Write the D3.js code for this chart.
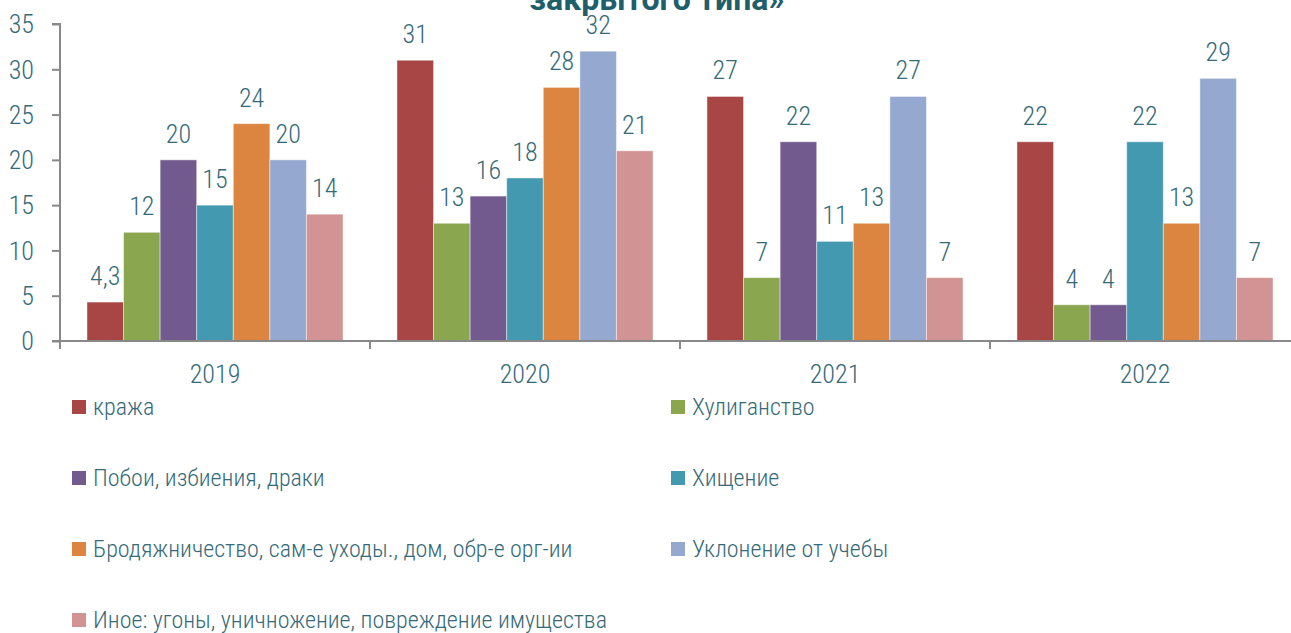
<!DOCTYPE html>
<html>
<head>
<meta charset="utf-8">
<script src="https://cdn.jsdelivr.net/npm/d3@7"></script>
<style>
  body { margin: 0; background: #fff; }
  svg text { font-family: "Liberation Sans Narrow", "Roboto Condensed", "DejaVu Sans Condensed", sans-serif; font-stretch: condensed; font-weight: 300; }
</style>
</head>
<body>
<div id="chart"></div>
<script>
// years along the x axis
var years = ["2019", "2020", "2021", "2022"];

// series (legend order)
var seriesNames = [
  "кража",
  "Хулиганство",
  "Побои, избиения, драки",
  "Хищение",
  "Бродяжничество, сам-е уходы., дом, обр-е орг-ии",
  "Уклонение от учебы",
  "Иное: угоны, уничножение, повреждение имущества"
];
var seriesColors = ["#a84645", "#8aa64e", "#735a8e", "#4399b0", "#dc8540", "#95a9d0", "#d19393"];

// values per series, one per year
var kraza      = [4.3, 31, 27, 22];
var huligan    = [12, 13, 7, 4];
var poboi      = [20, 16, 22, 4];
var hischenie  = [15, 18, 11, 22];
var brodyazh   = [24, 28, 13, 13];
var uklonenie  = [20, 32, 27, 29];
var inoe       = [14, 21, 7, 7];
var seriesValues = [kraza, huligan, poboi, hischenie, brodyazh, uklonenie, inoe];

var yTicks = [0, 5, 10, 15, 20, 25, 30, 35];

var W = 1291, H = 633;
var textColor = "#366a79";
var axisColor = "#898989";

var svg = d3.select("#chart").append("svg")
  .attr("width", W)
  .attr("height", H);

// scales
var x0 = d3.scaleBand().domain(years).range([60, 1300]).paddingInner(0.174).paddingOuter(0.087);
var x1 = d3.scaleBand().domain(d3.range(seriesNames.length)).range([0, x0.bandwidth()]);
var y = d3.scaleLinear().domain([0, 35]).range([341, 24]);

// title (only the tail of it shows at the top)
svg.append("text")
  .attr("x", 657)
  .attr("y", 10)
  .attr("text-anchor", "middle")
  .style("font-family", "Roboto, 'Liberation Sans', sans-serif")
  .style("font-stretch", "normal")
  .style("font-size", "32px")
  .style("font-weight", "bold")
  .style("fill", "#1f5e6b")
  .text("закрытого типа»");

// bars
var rows = [];
years.forEach(function(yr, i) {
  seriesValues.forEach(function(vals, s) {
    rows.push({year: yr, s: s, value: vals[i]});
  });
});

svg.append("g")
  .selectAll("rect")
  .data(rows)
  .enter().append("rect")
  .attr("x", function(d) { return x0(d.year) + x1(d.s); })
  .attr("y", function(d) { return y(d.value); })
  .attr("width", x1.bandwidth())
  .attr("height", function(d) { return y(0) - y(d.value); })
  .attr("fill", function(d) { return seriesColors[d.s]; })
  .attr("stroke", "#ffffff")
  .attr("stroke-opacity", 0.45)
  .attr("stroke-width", 1);

// value labels
svg.append("g")
  .selectAll("text")
  .data(rows)
  .enter().append("text")
  .attr("x", function(d) { return x0(d.year) + x1(d.s) + x1.bandwidth() / 2; })
  .attr("y", function(d) { return y(d.value) - 17; })
  .attr("text-anchor", "middle")
  .style("font-size", "26px")
  .style("fill", textColor)
  .text(function(d) { return String(d.value).replace(".", ","); });

// y axis
var yAxis = svg.append("g")
  .attr("transform", "translate(60,0)")
  .call(d3.axisLeft(y).tickValues(yTicks).tickSize(8).tickPadding(18));
yAxis.select(".domain").attr("d", "M-8,24H0V341");

// x axis
var xAxis = svg.append("g")
  .attr("transform", "translate(0,341)")
  .call(d3.axisBottom(x0).tickSize(0).tickPadding(24));
xAxis.select(".domain").attr("d", "M52,0H1300");
xAxis.selectAll(".sep")
  .data(years.concat(["end"]))
  .enter().append("line")
  .attr("class", "sep")
  .attr("x1", function(d, i) { return 60 + i * x0.step(); })
  .attr("x2", function(d, i) { return 60 + i * x0.step(); })
  .attr("y1", 0)
  .attr("y2", 8)
  .attr("stroke", axisColor)
  .attr("stroke-width", 2);

[yAxis, xAxis].forEach(function(a) {
  a.select(".domain").attr("stroke", axisColor).attr("stroke-width", 2).attr("fill", "none");
  a.selectAll(".tick line").attr("stroke", axisColor).attr("stroke-width", 2);
  a.selectAll(".tick text").style("font-size", "26px").style("fill", textColor).attr("font-family", null);
});
yAxis.selectAll(".tick text").attr("dy", "0.34em");

// legend: two columns
var legend = svg.append("g")
  .selectAll("g")
  .data(seriesNames)
  .enter().append("g")
  .attr("transform", function(d, i) {
    var col = i % 2, row = Math.floor(i / 2);
    return "translate(" + (col === 0 ? 72 : 671) + "," + (407 + row * 71) + ")";
  });

legend.append("rect")
  .attr("x", 0)
  .attr("y", -7)
  .attr("width", 14)
  .attr("height", 14)
  .attr("fill", function(d, i) { return seriesColors[i]; });

legend.append("text")
  .attr("x", 21)
  .attr("y", 0)
  .attr("dy", "0.35em")
  .style("font-size", "24px")
  .style("fill", textColor)
  .text(function(d) { return d; });
</script>
</body>
</html>
